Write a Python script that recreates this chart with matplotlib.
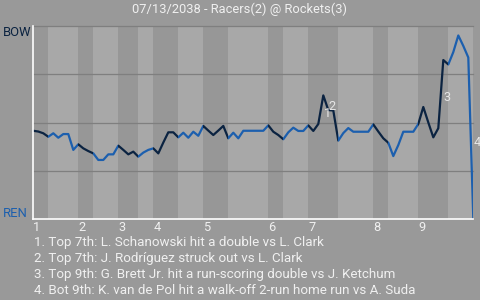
import numpy as np
import matplotlib.pyplot as plt

plt.rcParams['font.family'] = ['Roboto', 'DejaVu Sans']

title = "07/13/2038 - Racers(2) @ Rockets(3)"
team_top, team_bot = "BOW", "REN"

# BOW win probability (%) after each plate appearance
win_pct = [
    45.8, 45.4, 44.5, 42.7, 44.5, 42.2, 44.1, 44.1, 35.9, 38.8,
    36.7, 35.3, 34.1, 30.7, 30.7, 33.6, 33.6, 38.1, 35.9, 33.6,
    35.0, 32.4, 34.5, 35.9, 36.7, 34.1, 39.7, 45.0, 45.0, 42.4,
    44.8, 42.2, 45.3, 43.2, 48.3, 45.9, 43.6, 45.9, 48.3, 41.9,
    44.8, 41.9, 45.8, 45.8, 45.8, 45.8, 45.8, 48.6, 45.3, 43.6,
    41.4, 45.0, 47.4, 45.7, 45.7, 48.6, 45.7, 49.3, 64.1, 56.5,
    56.3, 40.7, 44.6, 47.2, 45.3, 45.3, 45.3, 45.3, 49.1, 45.4,
    41.9, 39.6, 32.7, 38.4, 45.3, 45.3, 45.3, 49.3, 58.1, 50.1,
    42.4, 47.1, 82.4, 80.1, 86.5, 95.1, 89.7, 83.7, 0.0,
]

# plate appearance index where each half inning starts (top, bottom, top, ...)
half_starts = [0, 3, 9, 12, 17, 21, 24, 29, 34, 39, 47, 50, 55, 61, 68, 71, 77, 83, 88]
innings = ['1', '2', '3', '4', '5', '6', '7', '8', '9']

# key plays: index of the plate appearance that ends the play
key_pa = [58, 59, 82, 88]
key_text = [
    "1. Top 7th: L. Schanowski hit a double vs L. Clark",
    "2. Top 7th: J. Rodríguez struck out vs L. Clark",
    "3. Top 9th: G. Brett Jr. hit a run-scoring double vs J. Ketchum",
    "4. Bot 9th: K. van de Pol hit a walk-off 2-run home run vs A. Suda",
]

BG = '#999999'
BAND_TOP = '#979797'
BAND_BOT = '#a8a8a8'
GRID = '#7f7f7f'
TOP_C = '#0b2341'
BOT_C = '#1c5fae'
TXT = '#f0f0f0'

W, H = 480, 300
fig = plt.figure(figsize=(W / 100, H / 100), dpi=100, facecolor=BG)
ax = fig.add_axes([33.3 / W, 80.7 / H, 440 / W, 193.3 / H])
ax.set_facecolor(BG)

x = np.arange(len(win_pct))
y = np.array(win_pct) / 100

for k in range(len(half_starts) - 1):
    top_half = k % 2 == 0
    band = ax.axvspan(half_starts[k], half_starts[k + 1], lw=0, zorder=0,
                      color=BAND_TOP if top_half else BAND_BOT)
    ln, = ax.plot(x, y, color=TOP_C if top_half else BOT_C, lw=1.6, zorder=3)
    ln.set_clip_path(band)

for g in [0.25, 0.5, 0.75, 1.0]:
    ax.axhline(g, color=GRID, lw=0.9, zorder=1, clip_on=False)

ax.set_xlim(0, len(win_pct) - 1)
ax.set_ylim(0, 1)
ax.set_xticks([])
ax.set_yticks([])
for s in ['top', 'right']:
    ax.spines[s].set_visible(False)
for s in ['left', 'bottom']:
    ax.spines[s].set_color('white')
    ax.spines[s].set_linewidth(1.2)
    ax.spines[s].set_zorder(4)

# inning labels at start of each top half
xt = ax.get_xaxis_transform()
for lab, idx in zip(innings, half_starts[::2]):
    ax.text(idx, -0.0605, lab, transform=xt, ha='left', va='baseline',
            color=TXT, fontsize=9.2)

# numbered markers for key plays
for n, idx in enumerate(key_pa, start=1):
    ymid = (y[idx - 1] + y[idx]) / 2
    ax.text(idx + 0.1, ymid + 0.015, str(n), ha='left', va='top', color='#e6e6e6',
            fontsize=9.2, zorder=5)

fig.text(0.5, 1 - 12.7 / H, title, ha='center', va='baseline', color=TXT, fontsize=9.3)
fig.text(3 / W, 1 - 26.5 / H, team_top, ha='left', va='top', color=TOP_C, fontsize=9.4)
fig.text(3 / W, 1 - 216.7 / H, team_bot, ha='left', va='baseline', color=BOT_C, fontsize=9.4)

for i, t in enumerate(key_text):
    fig.text(33.5 / W, 1 - (246 + 16 * i) / H, t, ha='left', va='baseline',
             color=TXT, fontsize=9.6)

fig.savefig('out.png', dpi=100, facecolor=BG)
